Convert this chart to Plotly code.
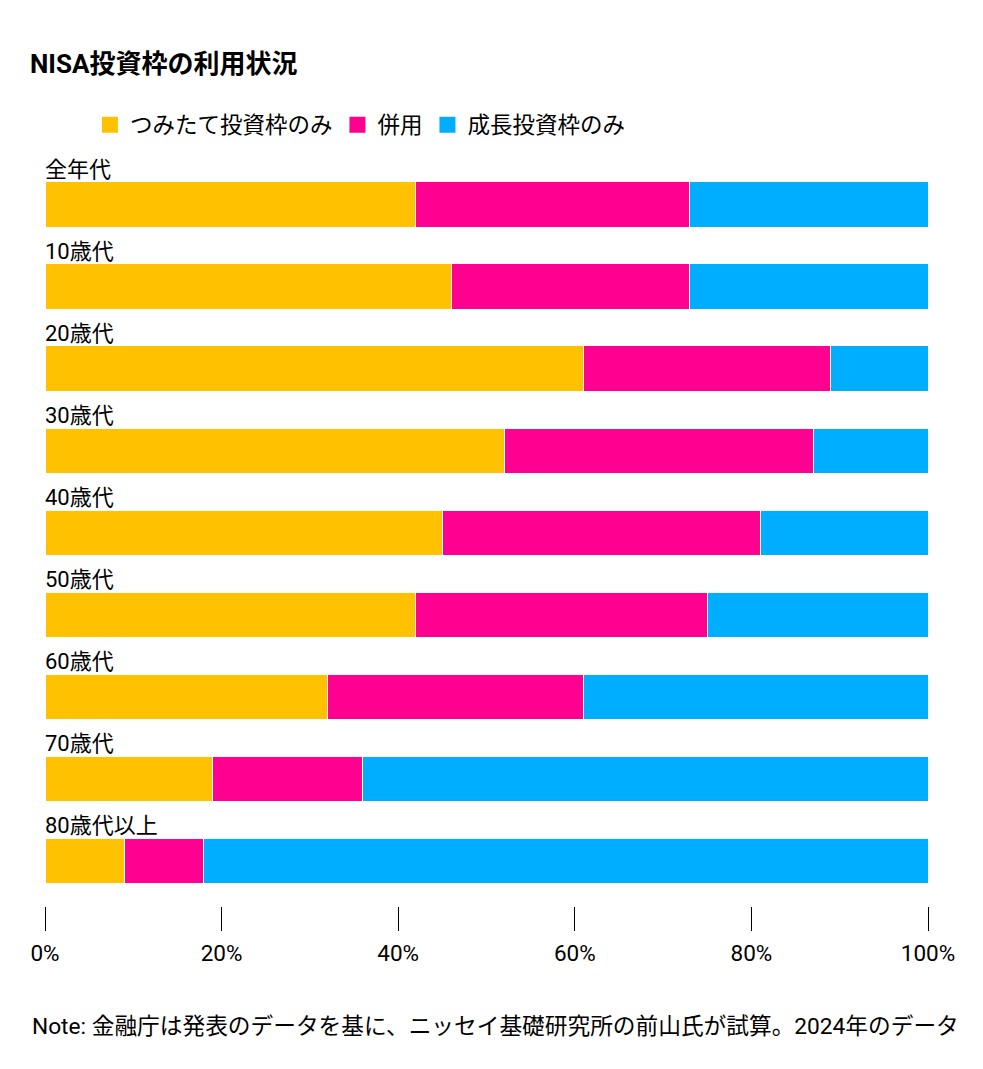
import plotly.graph_objects as go

categories = ["全年代", "10歳代", "20歳代", "30歳代", "40歳代", "50歳代", "60歳代", "70歳代", "80歳代以上"]
tsumitate_only = [42, 46, 61, 52, 45, 42, 32, 19, 9]
both = [31, 27, 28, 35, 36, 33, 29, 17, 9]
growth_only = [27, 27, 11, 13, 19, 25, 39, 64, 82]
series_names = ["つみたて投資枠のみ", "併用", "成長投資枠のみ"]
colors = ["#FFC100", "#FF0090", "#00AEFF"]
tick_vals = [0, 20, 40, 60, 80, 100]
tick_text = ["0%", "20%", "40%", "60%", "80%", "100%"]

FONT = "Roboto, 'Noto Sans CJK JP', sans-serif"

fig = go.Figure()
for name, vals, col in zip(series_names, [tsumitate_only, both, growth_only], colors):
    fig.add_trace(go.Bar(
        y=categories, x=vals, name=name, orientation="h",
        marker=dict(color=col, line=dict(color="white", width=1)),
        width=0.56, showlegend=False, hovertemplate="%{y}: %{x}%<extra>" + name + "</extra>",
    ))
    fig.add_trace(go.Scatter(
        x=[None], y=[None], mode="markers", name=name,
        marker=dict(symbol="square", size=19, color=col), showlegend=True,
    ))

for c in categories:
    fig.add_annotation(
        x=0, y=c, xref="x", yref="y", text=c, showarrow=False,
        xanchor="left", yanchor="bottom", yshift=21, xshift=-2,
        font=dict(size=22, color="#000", family=FONT),
    )

fig.update_layout(
    width=983, height=1069,
    margin=dict(l=45, r=55, t=150, b=163, autoexpand=False),
    paper_bgcolor="white", plot_bgcolor="white",
    barmode="stack", bargap=0.44,
    font=dict(family=FONT, color="#000"),
    title=dict(text="<b>NISA投資枠の利用状況</b>", x=30/983, xanchor="left",
               y=1 - 64/1069, yanchor="middle", font=dict(size=26, color="#000")),
    legend=dict(orientation="h", x=50/983, xanchor="left", y=1 - 125/1069, yanchor="middle",
                yref="container", font=dict(size=22.5), itemsizing="trace", traceorder="normal",
                bgcolor="rgba(0,0,0,0)"),
    xaxis=dict(range=[0, 100], tickvals=tick_vals, ticktext=tick_text, ticks="outside",
               ticklen=24, tickcolor="#000", tickwidth=1, showgrid=False, zeroline=False,
               showline=False, tickfont=dict(size=22.5), ticklabelstandoff=3, fixedrange=True),
    yaxis=dict(categoryorder="array", categoryarray=categories, range=[8.549, -0.67],
               showticklabels=False, showgrid=False, zeroline=False, ticks=""),
)
fig.add_annotation(
    text="Note: 金融庁は発表のデータを基に、ニッセイ基礎研究所の前山氏が試算。2024年のデータ",
    xref="paper", yref="paper", x=-15/883, y=-(1026 - 906) / 756, xanchor="left", yanchor="middle",
    showarrow=False, font=dict(size=22.7, color="#000", family=FONT),
)

fig.write_html("out.html")
